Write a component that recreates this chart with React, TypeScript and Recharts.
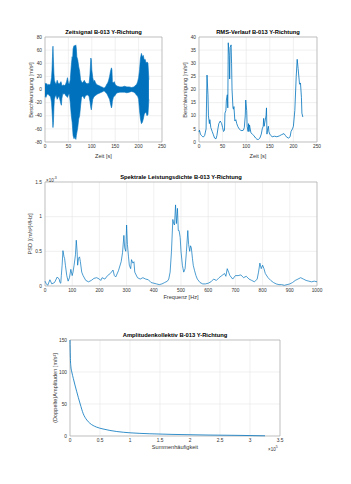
import { LineChart, Line, AreaChart, Area, XAxis, YAxis, CartesianGrid, ReferenceArea } from 'recharts'

const FONT = '"Liberation Sans", Arial, Helvetica, sans-serif'
const BLUE = '#0072BD'
const GRID = '#e6e6e6'
const BOX = '#a6a6a6'
const TXT = '#333333'

// Zeitsignal: Hüllkurve (oben/unten) in m/s²
const sigTime = [0, 2, 4, 6, 8, 10, 12, 14, 15, 16, 17, 18, 19, 20, 22, 24, 26, 28, 30, 32, 34, 35, 36, 38, 40, 42, 44, 46, 48, 50, 52, 54, 56, 58, 59, 60, 62, 64, 66, 67, 68, 70, 72, 74, 76, 78, 80, 82, 84, 86, 88, 90, 92, 94, 96, 98, 99, 100, 102, 104, 106, 108, 110, 112, 115, 118, 121, 124, 126, 128, 130, 132, 134, 136, 138, 140, 142, 143, 144, 146, 148, 150, 152, 155, 160, 165, 170, 175, 180, 185, 190, 193, 196, 198, 200, 202, 204, 206, 208, 210, 212, 214, 216, 218, 220, 222]
const sigUpper = [10, 8, 9, 6, 8, 7, 9, 18, 30, 50, 66, 45, 25, 14, 10, 8, 14, 10, 8, 10, 12, 10, 6, 6, 7, 6, 8, 12, 18, 10, 8, 15, 35, 50, 45, 62, 67, 66, 68, 62, 50, 45, 35, 28, 15, 12, 10, 12, 14, 11, 10, 8, 10, 8, 22, 48, 45, 30, 18, 12, 14, 10, 8, 7, 6, 5, 4, 3, 2, 3, 5, 8, 10, 14, 20, 28, 33, 30, 12, 10, 12, 8, 6, 5, 4, 4, 5, 4, 4, 3, 4, 6, 8, 12, 18, 30, 48, 55, 50, 52, 45, 46, 40, 42, 40, 15]
const sigLower = [-10, -12, -8, -7, -8, -10, -11, -20, -32, -45, -58, -50, -28, -15, -10, -9, -15, -12, -10, -16, -22, -24, -14, -6, -7, -6, -9, -10, -12, -8, -7, -20, -38, -50, -60, -70, -75, -72, -76, -70, -66, -58, -45, -40, -25, -12, -10, -11, -14, -10, -9, -8, -9, -10, -18, -28, -31, -25, -15, -12, -10, -9, -8, -7, -6, -5, -4, -3, -2, -3, -5, -6, -9, -12, -15, -22, -28, -25, -18, -12, -10, -9, -6, -5, -4, -4, -4, -5, -4, -3, -4, -6, -9, -10, -15, -32, -45, -52, -50, -45, -38, -35, -35, -40, -38, -15]

// RMS-Verlauf
const rmsTime = [0, 1, 3, 5, 8, 10, 12, 15, 17, 19, 20, 22, 23, 25, 28, 30, 33, 36, 38, 40, 42, 45, 48, 50, 52, 54, 55, 57, 58, 60, 61, 62, 64, 65, 66, 68, 69, 70, 72, 73, 74, 76, 78, 80, 82, 85, 88, 91, 94, 96, 98, 99, 101, 102, 104, 105, 106, 107, 108, 110, 113, 116, 120, 123, 126, 129, 132, 134, 136, 137, 138, 140, 142, 143, 144, 145, 147, 148, 150, 152, 155, 160, 165, 170, 175, 180, 183, 186, 190, 193, 195, 198, 200, 203, 206, 208, 210, 213, 215, 217, 218, 220]
const rmsVal = [3.8, 4.5, 3, 2.5, 2, 2, 2.5, 5, 25.5, 18, 10, 7, 8.5, 5.5, 4, 3, 1.5, 1.2, 2.5, 5, 7, 8, 7, 5.5, 4, 4.5, 11, 12, 16, 18, 13, 37.8, 33, 24, 36, 37, 30, 20, 13, 12.5, 13.5, 8, 8.5, 7, 6, 5, 4.5, 4.3, 4.5, 5.5, 10, 16, 12, 6, 4, 7, 4, 6.5, 5.5, 3.5, 3, 2.5, 1.5, 1, 1, 1.5, 3, 5, 6, 9, 6, 8, 10, 13, 3, 4.5, 6, 4, 3, 2.5, 2, 2.2, 2, 2.3, 2.8, 3.2, 2.5, 1.8, 1.5, 2, 4, 5, 6, 12, 25, 31.5, 28, 22, 22.5, 17, 11, 9.5]

// PSD in 10^-3 (m/s²)²/Hz
const psdFreq = [0, 5, 10, 18, 25, 35, 45, 52, 55, 58, 60, 63, 66, 70, 72, 75, 80, 85, 90, 95, 100, 103, 107, 112, 115, 118, 120, 123, 127, 130, 135, 140, 150, 160, 170, 180, 190, 200, 205, 210, 220, 230, 240, 250, 255, 260, 270, 280, 285, 290, 293, 297, 300, 303, 307, 310, 315, 318, 323, 327, 330, 340, 350, 360, 370, 380, 390, 400, 410, 420, 430, 440, 450, 455, 460, 465, 470, 473, 476, 480, 483, 487, 490, 493, 497, 500, 505, 510, 515, 520, 525, 528, 532, 535, 538, 542, 545, 550, 555, 560, 570, 580, 590, 600, 610, 620, 630, 640, 650, 660, 665, 670, 675, 680, 690, 700, 710, 720, 730, 740, 750, 760, 770, 780, 785, 790, 795, 800, 805, 810, 820, 830, 840, 850, 860, 870, 880, 890, 900, 910, 920, 930, 940, 950, 960, 970, 980, 990, 1000]
const psdVal = [0.07, 0.03, 0.01, 0.09, 0.03, 0.05, 0.13, 0.1, 0.05, 0.04, 0.15, 0.3, 0.51, 0.42, 0.4, 0.3, 0.15, 0.07, 0.12, 0.24, 0.15, 0.2, 0.3, 0.45, 0.66, 0.5, 0.3, 0.4, 0.42, 0.35, 0.2, 0.15, 0.08, 0.06, 0.08, 0.11, 0.12, 0.1, 0.08, 0.12, 0.1, 0.15, 0.18, 0.23, 0.15, 0.13, 0.22, 0.35, 0.48, 0.73, 0.55, 0.5, 0.88, 0.6, 0.42, 0.3, 0.25, 0.38, 0.33, 0.35, 0.2, 0.12, 0.1, 0.12, 0.1, 0.09, 0.05, 0.04, 0.03, 0.02, 0.03, 0.05, 0.07, 0.1, 0.2, 0.5, 0.96, 0.9, 0.88, 1.17, 0.9, 1.12, 0.8, 0.8, 0.7, 0.5, 0.3, 0.2, 0.25, 0.5, 0.8, 0.6, 0.5, 0.58, 0.55, 0.4, 0.3, 0.22, 0.15, 0.1, 0.05, 0.03, 0.03, 0.04, 0.06, 0.1, 0.08, 0.12, 0.15, 0.18, 0.14, 0.25, 0.2, 0.15, 0.1, 0.15, 0.15, 0.16, 0.12, 0.14, 0.1, 0.08, 0.06, 0.1, 0.2, 0.33, 0.25, 0.3, 0.25, 0.18, 0.12, 0.08, 0.05, 0.03, 0.02, 0.02, 0.01, 0.02, 0.03, 0.05, 0.08, 0.1, 0.12, 0.1, 0.08, 0.07, 0.06, 0.07, 0.06]

// Amplitudenkollektiv: Summenhäufigkeit in 10^5
const ampCount = [0, 0.005, 0.015, 0.03, 0.055, 0.11, 0.17, 0.22, 0.28, 0.33, 0.44, 0.55, 0.78, 1.0, 1.33, 1.7, 2.3, 2.8, 3.25]
const ampVal = [150, 125, 108, 100, 90, 70, 50, 35, 25, 20, 14, 11, 7, 5, 3.5, 2.5, 1.5, 1, 0.3]

const sigData = sigTime.map((t, i) => ({ t, band: [sigLower[i], sigUpper[i]] }))
const rmsData = rmsTime.map((t, i) => ({ t, v: rmsVal[i] }))
const psdData = psdFreq.map((f, i) => ({ f, v: psdVal[i] }))
const ampData = ampCount.map((n, i) => ({ n, v: ampVal[i] }))

const tick = { fontSize: 4.8, fill: TXT, fontFamily: FONT }

function Title({ x, y, text }: { x: number; y: number; text: string }) {
  return (
    <div style={{ position: 'absolute', left: x - 100, top: y - 4, width: 200, textAlign: 'center', fontFamily: FONT, fontSize: 5.8, fontWeight: 700, color: '#000', lineHeight: '8px' }}>
      {text}
    </div>
  )
}

function XLabel({ x, y, text }: { x: number; y: number; text: string }) {
  return (
    <div style={{ position: 'absolute', left: x - 60, top: y - 4, width: 120, textAlign: 'center', fontFamily: FONT, fontSize: 5.6, color: TXT, lineHeight: '8px' }}>
      {text}
    </div>
  )
}

function YLabel({ x, y, text }: { x: number; y: number; text: string }) {
  return (
    <div style={{ position: 'absolute', left: x - 60, top: y - 4, width: 120, textAlign: 'center', fontFamily: FONT, fontSize: 5.6, color: TXT, lineHeight: '8px', transform: 'rotate(-90deg)' }}>
      {text}
    </div>
  )
}

function Note({ x, y, base, exp }: { x: number; y: number; base: string; exp: string }) {
  return (
    <div style={{ position: 'absolute', left: x, top: y, fontFamily: FONT, fontSize: 4.5, color: TXT, lineHeight: '6px', whiteSpace: 'nowrap' }}>
      {base}<sup style={{ fontSize: 3.5 }}>{exp}</sup>
    </div>
  )
}

export default function App() {
  return (
    <div style={{ position: 'absolute', left: 0, top: 0, width: 351, height: 484, background: '#fff', overflow: 'hidden' }}>
      <div style={{ position: 'absolute', left: 0, top: 25 }}>
        <AreaChart width={170} height={140} data={sigData} margin={{ top: 12, right: 8, left: 0, bottom: 0 }}>
          <CartesianGrid stroke={GRID} strokeWidth={0.6} />
          <XAxis dataKey="t" type="number" domain={[0, 250]} ticks={[0, 50, 100, 150, 200, 250]} interval={0} height={23} tick={tick} tickLine={false} axisLine={false} tickSize={2} tickMargin={1} />
          <YAxis type="number" domain={[-80, 80]} ticks={[-80, -60, -40, -20, 0, 20, 40, 60, 80]} interval={0} width={45} tick={tick} tickLine={false} axisLine={false} tickSize={2} tickMargin={1} />
          <ReferenceArea x1={0} x2={250} y1={-80} y2={80} fill="none" stroke={BOX} strokeWidth={0.6} />
          <Area dataKey="band" type="linear" stroke={BLUE} strokeWidth={0.6} fill={BLUE} fillOpacity={1} isAnimationActive={false} dot={false} activeDot={false} />
        </AreaChart>
      </div>
      <Title x={103.5} y={32} text="Zeitsignal B-013 Y-Richtung" />
      <XLabel x={103.5} y={156} text="Zeit [s]" />
      <YLabel x={31} y={89.5} text="Beschleunigung [m/s²]" />

      <div style={{ position: 'absolute', left: 154, top: 25 }}>
        <LineChart width={171} height={140} data={rmsData} margin={{ top: 12, right: 8, left: 0, bottom: 0 }}>
          <CartesianGrid stroke={GRID} strokeWidth={0.6} />
          <XAxis dataKey="t" type="number" domain={[0, 250]} ticks={[0, 50, 100, 150, 200, 250]} interval={0} height={23} tick={tick} tickLine={false} axisLine={false} tickSize={2} tickMargin={1} />
          <YAxis type="number" domain={[0, 40]} ticks={[0, 5, 10, 15, 20, 25, 30, 35, 40]} interval={0} width={45} tick={tick} tickLine={false} axisLine={false} tickSize={2} tickMargin={1} />
          <ReferenceArea x1={0} x2={250} y1={0} y2={40} fill="none" stroke={BOX} strokeWidth={0.6} />
          <Line dataKey="v" type="linear" stroke={BLUE} strokeWidth={0.8} dot={false} activeDot={false} isAnimationActive={false} />
        </LineChart>
      </div>
      <Title x={258} y={32} text="RMS-Verlauf B-013 Y-Richtung" />
      <XLabel x={258} y={156} text="Zeit [s]" />
      <YLabel x={185} y={89.5} text="Beschleunigung [m/s²]" />

      <div style={{ position: 'absolute', left: 0, top: 170 }}>
        <LineChart width={325} height={140} data={psdData} margin={{ top: 12, right: 8, left: 0, bottom: 0 }}>
          <CartesianGrid stroke={GRID} strokeWidth={0.6} />
          <XAxis dataKey="f" type="number" domain={[0, 1000]} ticks={[0, 100, 200, 300, 400, 500, 600, 700, 800, 900, 1000]} interval={0} height={24} tick={tick} tickLine={false} axisLine={false} tickSize={2} tickMargin={1} />
          <YAxis type="number" domain={[0, 1.5]} ticks={[0, 0.5, 1, 1.5]} interval={0} width={45} tick={tick} tickLine={false} axisLine={false} tickSize={2} tickMargin={1} />
          <ReferenceArea x1={0} x2={1000} y1={0} y2={1.5} fill="none" stroke={BOX} strokeWidth={0.6} />
          <Line dataKey="v" type="linear" stroke={BLUE} strokeWidth={0.7} dot={false} activeDot={false} isAnimationActive={false} />
        </LineChart>
      </div>
      <Title x={181} y={177} text="Spektrale Leistungsdichte B-013 Y-Richtung" />
      <XLabel x={181} y={297} text="Frequenz [Hz]" />
      <YLabel x={30} y={234} text="PSD [(m/s²)²/Hz]" />
      <Note x={46} y={175} base="×10" exp="-3" />

      <div style={{ position: 'absolute', left: 25, top: 328 }}>
        <LineChart width={263} height={132} data={ampData} margin={{ top: 12, right: 8, left: 0, bottom: 0 }}>
          <CartesianGrid stroke={GRID} strokeWidth={0.6} />
          <XAxis dataKey="n" type="number" domain={[0, 3.5]} ticks={[0, 0.5, 1, 1.5, 2, 2.5, 3, 3.5]} interval={0} height={24} tick={tick} tickLine={false} axisLine={false} tickSize={2} tickMargin={1} />
          <YAxis type="number" domain={[0, 150]} ticks={[0, 50, 100, 150]} interval={0} width={45} tick={tick} tickLine={false} axisLine={false} tickSize={2} tickMargin={1} />
          <ReferenceArea x1={0} x2={3.5} y1={0} y2={150} fill="none" stroke={BOX} strokeWidth={0.6} />
          <Line dataKey="v" type="monotone" stroke={BLUE} strokeWidth={0.8} dot={false} activeDot={false} isAnimationActive={false} />
        </LineChart>
      </div>
      <Title x={175} y={335} text="Amplitudenkollektiv B-013 Y-Richtung" />
      <XLabel x={175} y={447} text="Summenhäufigkeit" />
      <YLabel x={55} y={388} text="(Doppelte)Amplituden [m/s²]" />
      <Note x={268} y={444} base="×10" exp="5" />
    </div>
  )
}
